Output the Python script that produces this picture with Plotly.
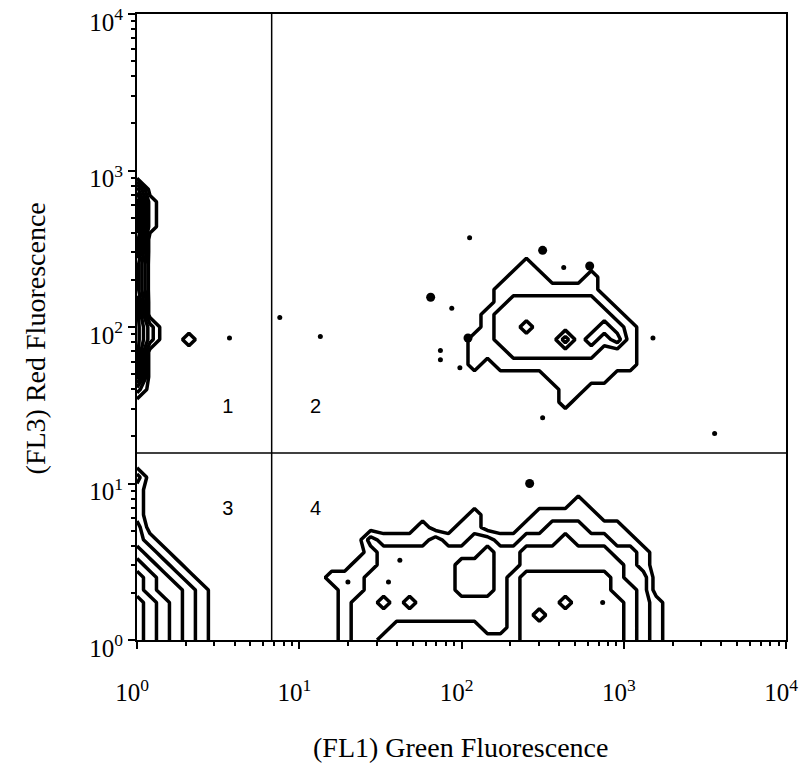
import numpy as np
import plotly.graph_objects as go

# ---------------- data (log10 fluorescence units) ----------------
GRID_STEP = 0.08
N_COLS = 51
N_ROWS = 40

# density levels: (row, first column, digits)
DENSITY_SEGMENTS = [
    # bottom-left cluster (quadrant 3)
    (0, 0, "654321"), (1, 0, "654321"), (2, 0, "654321"), (3, 0, "654321"),
    (4, 0, "543321"), (5, 0, "54321"), (6, 0, "4321"), (7, 0, "321"),
    (8, 0, "21"), (9, 0, "2"), (10, 0, "1"), (11, 0, "1"), (12, 0, "1"), (13, 0, "2"),
    # bottom cluster (quadrant 4)
    (0, 16, "1223333333333344444444321"),
    (1, 16, "1222333333322344444444321"),
    (2, 16, "1222222222222345444444321"),
    (3, 16, "1223232222222344454444321"),
    (4, 16, "112222222333234444444332"),
    (5, 15, "1112222222333234444444322"),
    (6, 17, "11222222333223333333321"),
    (7, 18, "1222222223223333333221"),
    (8, 18, "211112112211222322211"),
    (9, 22, "1"), (9, 25, "11"), (9, 30, "11222111"),
    (10, 26, "1"), (10, 31, "11111"),
    (11, 34, "1"),
    # upper-right cluster (quadrant 2)
    (19, 33, "1"),
    (20, 33, "11"),
    (21, 32, "11111"),
    (22, 26, "1011111111111"),
    (23, 26, "1112222222111"),
    (24, 26, "1122222423231"),
    (25, 27, "122322222321"),
    (26, 27, "12222222221"),
    (27, 28, "122222221"),
    (28, 28, "11111111"),
    (29, 29, "111"), (29, 35, "1"),
    (30, 30, "1"),
    # left strip (quadrant 1)
    (20, 0, "2"), (21, 0, "5"), (22, 0, "5"), (23, 0, "5"),
    (24, 0, "52"), (24, 4, "1"), (25, 0, "52"), (26, 0, "5"), (27, 0, "5"),
    (28, 0, "4"), (29, 0, "4"), (30, 0, "4"), (31, 0, "5"), (32, 0, "5"),
    (33, 0, "61"), (34, 0, "61"), (35, 0, "61"), (36, 0, "4"),
]

# isolated events
BLOB_X = [2.42, 2.50, 1.81, 2.04, 2.79]
BLOB_Y = [1.00, 2.49, 2.19, 1.93, 2.39]
DOT_X = [2.50, 3.56, 2.05, 2.63, 1.94, 1.99, 3.18, 0.88, 1.13, 0.57,
         1.62, 1.55, 1.30, 2.87, 1.87, 1.87]
DOT_Y = [1.42, 1.32, 2.57, 2.38, 2.12, 1.74, 1.93, 2.06, 1.94, 1.93,
         0.51, 0.37, 0.37, 0.24, 1.85, 1.79]

QUAD_X = 0.83   # log10 green gate
QUAD_Y = 1.195  # log10 red gate
QUAD_LABELS = ["1", "2", "3", "4"]
QUAD_LABEL_X = [0.56, 1.10, 0.56, 1.10]
QUAD_LABEL_Y = [1.48, 1.48, 0.83, 0.83]

DECADES = [0, 1, 2, 3, 4]
DECADE_LABELS = ["10<sup>0</sup>", "10<sup>1</sup>", "10<sup>2</sup>",
                 "10<sup>3</sup>", "10<sup>4</sup>"]
MINOR_MULT = [2, 3, 4, 5, 6, 7, 8, 9]

X_TITLE = "(FL1) Green Fluorescence"
Y_TITLE = "(FL3) Red Fluorescence"

# ---------------- build ----------------
grid = np.zeros((N_ROWS, N_COLS))
for r, c, s in DENSITY_SEGMENTS:
    for k, ch in enumerate(s):
        grid[r, c + k] = int(ch)
x_grid = np.round(np.arange(N_COLS) * GRID_STEP, 4)
y_grid = np.round(np.arange(N_ROWS) * GRID_STEP, 4)
minor_vals = [d + np.log10(m) for d in DECADES[:-1] for m in MINOR_MULT]

SERIF = "Liberation Serif, Times New Roman, serif"

fig = go.Figure()
fig.add_trace(go.Contour(
    x=x_grid, y=y_grid, z=grid,
    contours=dict(start=0.5, end=6.5, size=1, coloring="none"),
    line=dict(color="black", width=3.5, smoothing=0),
    showscale=False, hoverinfo="skip"))
fig.add_trace(go.Scatter(x=BLOB_X, y=BLOB_Y, mode="markers",
                         marker=dict(color="black", size=9), hoverinfo="skip"))
fig.add_trace(go.Scatter(x=DOT_X, y=DOT_Y, mode="markers",
                         marker=dict(color="black", size=5), hoverinfo="skip"))
fig.add_trace(go.Scatter(x=QUAD_LABEL_X, y=QUAD_LABEL_Y, mode="text",
                         text=QUAD_LABELS,
                         textfont=dict(family="Liberation Sans, Arial", size=20, color="black"),
                         hoverinfo="skip"))

fig.add_shape(type="line", x0=QUAD_X, x1=QUAD_X, y0=0, y1=4,
              line=dict(color="black", width=1.5))
fig.add_shape(type="line", x0=0, x1=4, y0=QUAD_Y, y1=QUAD_Y,
              line=dict(color="black", width=1.5))

axis_common = dict(
    range=[0, 4], showgrid=False, zeroline=False, automargin=False,
    showline=True, linecolor="black", linewidth=2, mirror=True,
    ticks="outside", ticklen=7, tickwidth=2, tickcolor="black",
    tickmode="array", tickvals=DECADES, ticktext=DECADE_LABELS,
    ticklabeloverflow="allow",
    tickfont=dict(family=SERIF, size=25, color="black"),
    minor=dict(tickmode="array", tickvals=minor_vals, ticks="outside",
               ticklen=4, tickwidth=1.5, tickcolor="black", showgrid=False),
)
fig.update_xaxes(**axis_common, ticklabelshift=-5, ticklabelstandoff=22)
fig.update_yaxes(**axis_common, ticklabelshift=8)

fig.add_annotation(text=X_TITLE, xref="paper", yref="paper",
                   x=0.498, y=-0.1725, xanchor="center", yanchor="middle",
                   showarrow=False, font=dict(family=SERIF, size=28, color="black"))
fig.add_annotation(text=Y_TITLE, xref="paper", yref="paper",
                   x=-0.157, y=0.482, xanchor="center", yanchor="middle",
                   textangle=-90, showarrow=False,
                   font=dict(family=SERIF, size=28, color="black"))

fig.update_layout(
    width=802, height=770,
    margin=dict(l=137, r=16, t=14, b=130),
    paper_bgcolor="white", plot_bgcolor="white",
    showlegend=False,
)

fig.write_html("out.html", config={"displayModeBar": False},
               post_script="document.body.style.margin='0';")
